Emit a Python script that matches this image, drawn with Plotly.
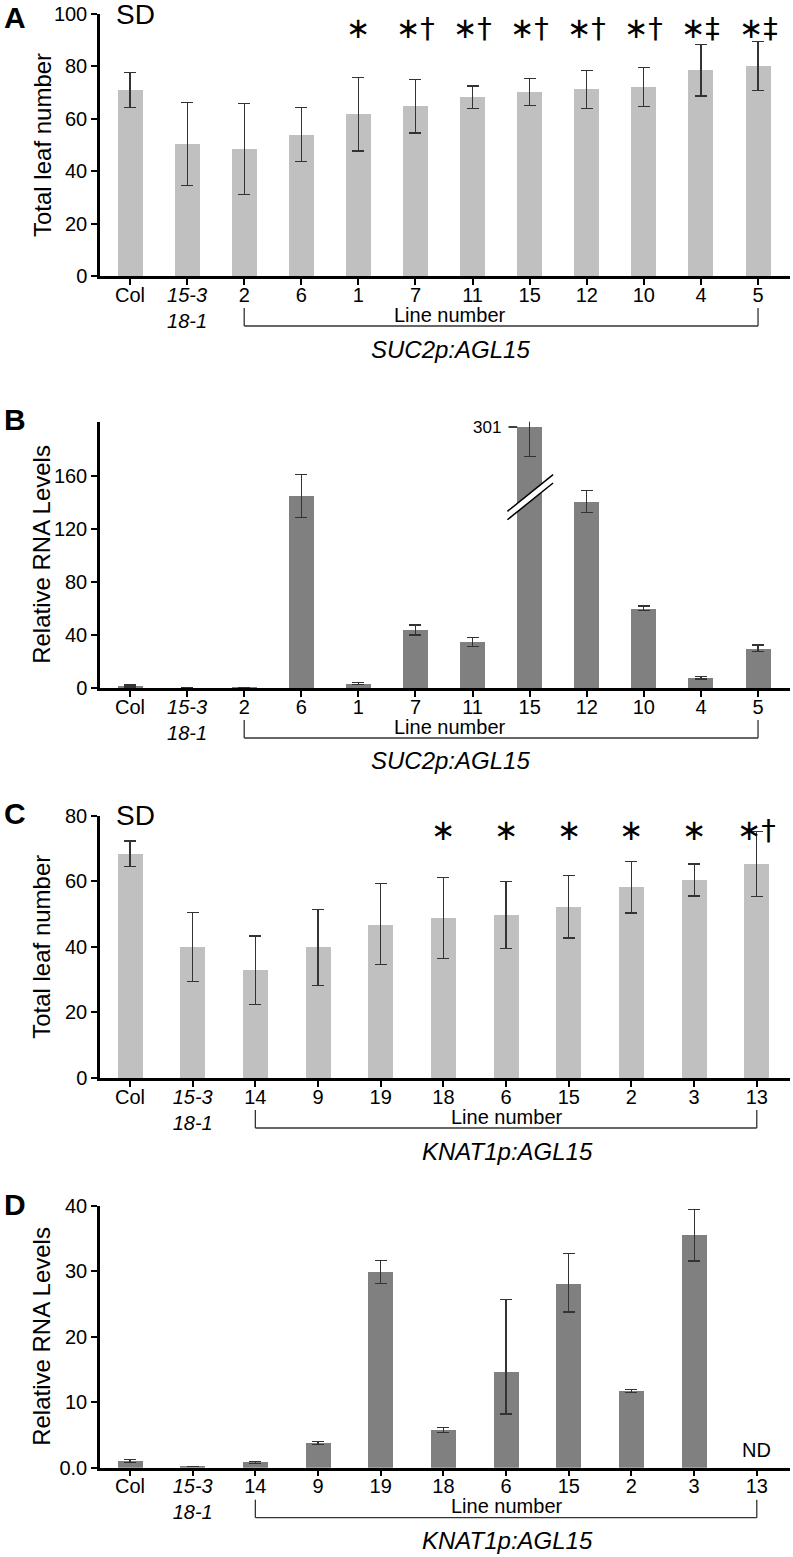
import plotly.graph_objects as go

W, H = 793, 1557
FONT = "Liberation Sans, Arial, sans-serif"

# panels A/B: SUC2p:AGL15 lines
lines_suc2 = ["Col", "<i>15-3</i><br><i>18-1</i>", "2", "6", "1", "7", "11", "15", "12", "10", "4", "5"]
leaf_a = [70.9, 50.4, 48.5, 54.0, 61.8, 64.8, 68.2, 70.2, 71.2, 72.1, 78.6, 80.2]
leaf_a_sd = [6.7, 15.8, 17.3, 10.2, 14.1, 10.2, 4.3, 5.1, 7.2, 7.5, 9.9, 9.3]
sig_a = ["", "", "", "", "∗", "∗†", "∗†", "∗†", "∗†", "∗†", "∗‡", "∗‡"]

rna_b = [1.5, 0, 0.3, 145, 3.3, 43.8, 34.8, 301, 140.7, 60.2, 7.8, 30.0]
rna_b_sd = [0.8, 0, 0, 16.1, 0.9, 3.8, 3.2, 22, 8.2, 1.7, 1.0, 2.4]
b_cut = 197  # height at which the 301 bar is drawn on the broken axis

# panels C/D: KNAT1p:AGL15 lines
lines_knat = ["Col", "<i>15-3</i><br><i>18-1</i>", "14", "9", "19", "18", "6", "15", "2", "3", "13"]
leaf_c = [68.4, 39.9, 32.9, 39.9, 46.9, 48.8, 49.7, 52.2, 58.2, 60.4, 65.3]
leaf_c_sd = [3.9, 10.5, 10.4, 11.6, 12.4, 12.4, 10.3, 9.5, 7.9, 4.9, 9.9]
sig_c = ["", "", "", "", "", "∗", "∗", "∗", "∗", "∗", "∗†"]

rna_d = [1.0, 0.15, 0.85, 3.8, 29.9, 5.7, 14.6, 28.1, 11.8, 35.6, None]
rna_d_hi = [0.25, 0, 0.15, 0.2, 1.8, 0.5, 11.1, 4.7, 0.2, 3.9, 0]
rna_d_lo = [0.25, 0, 0.15, 0.25, 1.8, 0.3, 6.4, 4.3, 0.3, 4.0, 0]


def py(px):
    return 1 - px / H


def pxx(px):
    return (px - 100) / (W - 103)


# (letter, axis-zero pixel, axis-top pixel)
panels = [("A", 276, 14), ("B", 688, 421.7), ("C", 1078, 815.7), ("D", 1467.7, 1206)]

fig = go.Figure()
LIGHT, DARK = "#c0c0c0", "#808080"

def add_bars(i, y, color, width, err):
    xa = "x" if i == 1 else f"x{i}"
    ya = "y" if i == 1 else f"y{i}"
    fig.add_trace(go.Bar(
        x=list(range(len(y))), y=y, width=width, xaxis=xa, yaxis=ya,
        marker=dict(color=color, line=dict(width=0)),
        error_y=dict(color="#333333", thickness=1.2, width=6, **err),
        showlegend=False,
    ))

wa = 25 / 57
wc = 25 / 62.66
add_bars(1, leaf_a, LIGHT, wa, dict(type="data", array=leaf_a_sd))
rna_b_shown = [min(v, b_cut) for v in rna_b]
add_bars(2, rna_b_shown, DARK, wa, dict(type="data", array=rna_b_sd))
add_bars(3, leaf_c, LIGHT, wc, dict(type="data", array=leaf_c_sd))
add_bars(4, rna_d, DARK, wc, dict(type="data", array=rna_d_hi, arrayminus=rna_d_lo, symmetric=False))

xranges = [[-0.526, 11.56], [-0.526, 11.56], [-0.479, 10.53], [-0.479, 10.53]]
ticktexts = [lines_suc2, lines_suc2, lines_knat, lines_knat]
yranges = [[0, 100], [0, 201], [0, 80], [0, 40]]
ytickvals = [[0, 20, 40, 60, 80, 100], [0, 40, 80, 120, 160], [0, 20, 40, 60, 80], [0, 10, 20, 30, 40]]
yticktexts = [None, None, None, ["0.0", "10", "20", "30", "40"]]
ytitles = ["Total leaf number", "Relative RNA Levels", "Total leaf number", "Relative RNA Levels"]

layout = dict(
    width=W, height=H, margin=dict(l=100, r=3, t=0, b=0, autoexpand=False),
    plot_bgcolor="white", paper_bgcolor="white",
    font=dict(family=FONT, size=20, color="black"),
    bargap=0, showlegend=False,
)
annotations = []
shapes = []
for k, (letter, y0, y1) in enumerate(panels):
    i = k + 1
    sx = "" if i == 1 else str(i)
    ticks = ticktexts[k]
    layout["xaxis" + sx] = dict(
        domain=[0, 1], anchor="y" + sx, range=xranges[k],
        tickmode="array", tickvals=list(range(len(ticks))), ticktext=ticks,
        showline=True, linecolor="black", linewidth=2.5,
        ticks="outside", ticklen=6, tickwidth=1.5, tickcolor="black",
        ticklabelstandoff=-7, automargin=False,
        showgrid=False, zeroline=False, fixedrange=True,
        tickfont=dict(size=20),
    )
    ya = dict(
        domain=[py(y0), py(y1)], anchor="x" + sx, range=yranges[k],
        tickmode="array", tickvals=ytickvals[k],
        showline=True, linecolor="black", linewidth=2.5,
        ticks="outside", ticklen=6, tickwidth=1.5, tickcolor="black",
        automargin=False,
        showgrid=False, zeroline=False, fixedrange=True,
        tickfont=dict(size=20),
    )
    if yticktexts[k]:
        ya["ticktext"] = yticktexts[k]
    layout["yaxis" + sx] = ya

    # panel letter
    annotations.append(dict(text=f"<b>{letter}</b>", xref="paper", yref="paper",
                            x=pxx(2), y=py(y1 - 2 if k else 17), xanchor="left", yanchor="middle",
                            showarrow=False, font=dict(size=30)))
    # y title
    annotations.append(dict(text=ytitles[k], xref="paper", yref="paper",
                            x=pxx(42), y=py((y0 + y1) / 2), textangle=-90,
                            xanchor="center", yanchor="middle", showarrow=False,
                            font=dict(size=24)))
    # bracket and labels under the axis
    first, last = 2, len(ticks) - 1
    top, bot = y0 + 32, y0 + 50
    for xv in (first, last):
        shapes.append(dict(type="line", xref="x" + sx, yref="paper", x0=xv, x1=xv,
                           y0=py(top), y1=py(bot), line=dict(color="#333333", width=1.3)))
    shapes.append(dict(type="line", xref="x" + sx, yref="paper", x0=first, x1=last,
                       y0=py(bot), y1=py(bot), line=dict(color="#333333", width=1.3)))
    cx = 450 if k < 2 else 507
    annotations.append(dict(text="Line number", xref="paper", yref="paper",
                            x=pxx(cx), y=py(y0 + 38.5), xanchor="center", yanchor="middle",
                            showarrow=False, font=dict(size=20)))
    construct = "SUC2p:AGL15" if k < 2 else "KNAT1p:AGL15"
    annotations.append(dict(text=f"<i>{construct}</i>", xref="paper", yref="paper",
                            x=pxx(cx), y=py(y0 + 73), xanchor="center", yanchor="middle",
                            showarrow=False, font=dict(size=24)))

# "SD" labels and significance marks
for k, sig in ((0, sig_a), (2, sig_c)):
    sx = "" if k == 0 else str(k + 1)
    annotations.append(dict(text="SD", xref="x" + sx + " domain", yref="y" + sx + " domain",
                            x=0.021, y=1, xanchor="left", yanchor="middle",
                            showarrow=False, font=dict(size=28)))
    for j, s in enumerate(sig):
        if s:
            annotations.append(dict(text=s, xref="x" + sx, yref="y" + sx + " domain",
                                    x=j, y=0.945, xanchor="center", yanchor="middle",
                                    showarrow=False, font=dict(size=29, family="DejaVu Sans")))

# broken bar in panel B
jb = rna_b.index(301)
brk = [(6.61 - 7 + jb, 133.3), (7.41 - 7 + jb, 161), (7.41 - 7 + jb, 154.7), (6.61 - 7 + jb, 127)]
path = "M {} {} L {} {} L {} {} L {} {} Z".format(*[c for p in brk for c in p])
shapes.append(dict(type="path", xref="x2", yref="y2", path=path,
                   fillcolor="white", line=dict(width=0)))
for a, b in ((brk[0], brk[1]), (brk[3], brk[2])):
    shapes.append(dict(type="line", xref="x2", yref="y2", x0=a[0], y0=a[1], x1=b[0], y1=b[1],
                       line=dict(color="black", width=1.5)))
shapes.append(dict(type="line", xref="x2", yref="y2", x0=jb - 0.37, x1=jb - wa / 2,
                   y0=b_cut, y1=b_cut, line=dict(color="black", width=1.3)))
annotations.append(dict(text=str(rna_b[jb]), xref="x2", yref="y2", x=jb - 0.46, y=b_cut,
                        xanchor="right", yanchor="middle", showarrow=False,
                        font=dict(size=17)))

# ND for the missing value in panel D
jd = rna_d.index(None)
annotations.append(dict(text="ND", xref="x4", yref="y4", x=jd, y=2.7,
                        xanchor="center", yanchor="middle",
                        showarrow=False, font=dict(size=20)))

layout["annotations"] = annotations
layout["shapes"] = shapes
fig.update_layout(**layout)
page_css = ("var s=document.documentElement.style;s.margin='0';s.height='1557px';s.overflow='hidden';"
            "var b=document.body.style;b.margin='0';b.height='1557px';b.overflow='hidden';")
fig.write_html("out.html", config={"displayModeBar": False}, post_script=page_css)
